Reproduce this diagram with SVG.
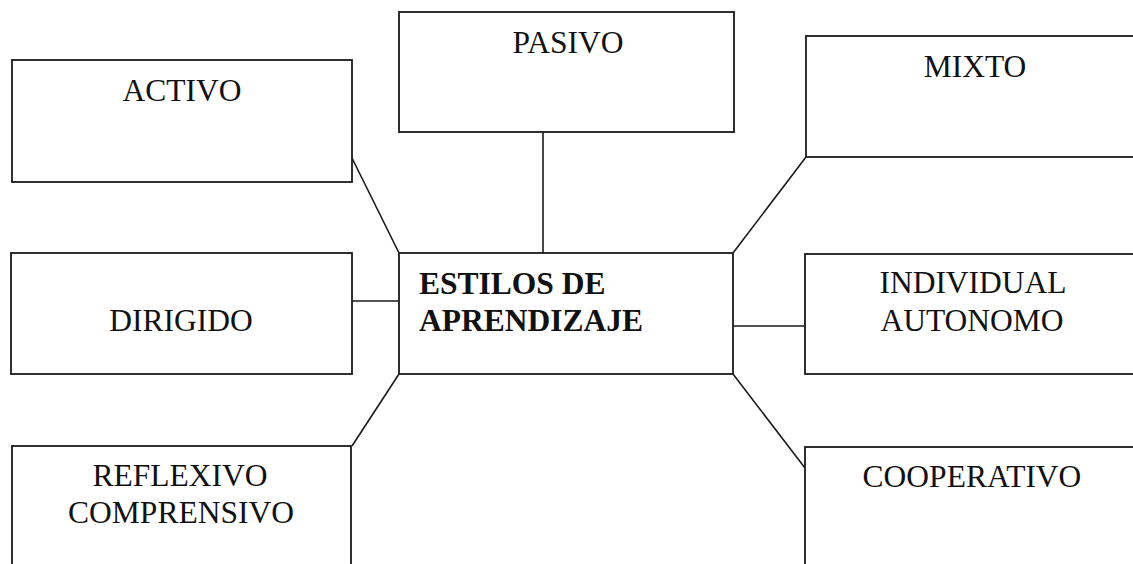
<svg xmlns="http://www.w3.org/2000/svg" width="1133" height="564" viewBox="0 0 1133 564">
<style>
.box{fill:#fff;stroke:#1a1a1a;stroke-width:1.8}
.t{fill:#111;text-anchor:middle}
.b{font-weight:bold;fill:#111}
.c{stroke:#1a1a1a;stroke-width:1.6;fill:none}
</style>
<rect width="1133" height="564" fill="#fff"/>
<g id="connectors">
<line class="c" x1="543" y1="132" x2="543" y2="253"/>
<line class="c" x1="352" y1="158" x2="399" y2="253"/>
<line class="c" x1="806" y1="157" x2="733" y2="253"/>
<line class="c" x1="352" y1="301" x2="399" y2="301"/>
<line class="c" x1="733" y1="326" x2="805" y2="326"/>
<line class="c" x1="399" y1="374" x2="352" y2="446"/>
<line class="c" x1="733" y1="374" x2="805" y2="468"/>
</g>
<g font-family="Liberation Serif, Times New Roman, serif" font-size="31.5">
<g id="activo">
<rect class="box" x="12" y="60" width="340" height="122"/>
<text class="t" x="182" y="101">ACTIVO</text>
</g>
<g id="pasivo">
<rect class="box" x="399" y="12" width="335" height="120"/>
<text class="t" x="568" y="53">PASIVO</text>
</g>
<g id="mixto">
<rect class="box" x="806" y="36" width="340" height="121"/>
<text class="t" x="975" y="77">MIXTO</text>
</g>
<g id="dirigido">
<rect class="box" x="11" y="253" width="341" height="121"/>
<text class="t" x="181" y="331">DIRIGIDO</text>
</g>
<g id="center">
<rect class="box" x="399" y="253" width="334" height="121"/>
<text class="b" x="419" y="294">ESTILOS DE</text>
<text class="b" x="419" y="331">APRENDIZAJE</text>
</g>
<g id="individual">
<rect class="box" x="805" y="254" width="340" height="120"/>
<text class="t" x="973" y="293">INDIVIDUAL</text>
<text class="t" x="972" y="331">AUTONOMO</text>
</g>
<g id="reflexivo">
<rect class="box" x="12" y="446" width="339" height="130"/>
<text class="t" x="180" y="486">REFLEXIVO</text>
<text class="t" x="181" y="523">COMPRENSIVO</text>
</g>
<g id="cooperativo">
<rect class="box" x="805" y="447" width="340" height="130"/>
<text class="t" x="972" y="487">COOPERATIVO</text>
</g>
</g>
</svg>
